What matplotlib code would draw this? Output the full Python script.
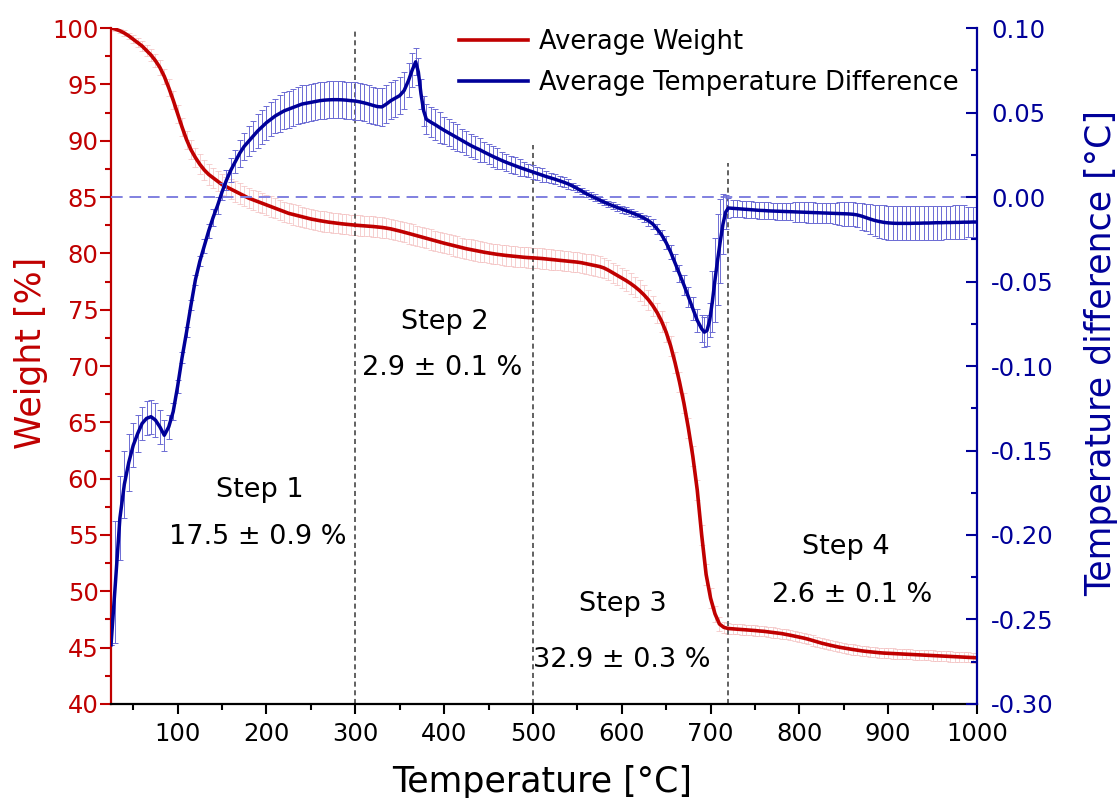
import matplotlib
matplotlib.use('Agg')
import matplotlib.pyplot as plt
from matplotlib.ticker import MultipleLocator, FormatStrFormatter
from matplotlib.lines import Line2D

plt.rcParams['font.family'] = 'DejaVu Sans'
plt.rcParams['axes.unicode_minus'] = False

# ---- weight curve (left axis) ----
temp_w = [
    25, 30, 35, 40, 45, 50, 55, 60, 65, 70,
    75, 80, 85, 90, 95, 100, 105, 110, 115, 120,
    125, 130, 135, 140, 145, 150, 155, 160, 165, 170,
    175, 180, 185, 190, 195, 200, 205, 210, 215, 220,
    225, 230, 235, 240, 245, 250, 255, 260, 265, 270,
    275, 280, 285, 290, 295, 300, 305, 310, 315, 320,
    325, 330, 335, 340, 345, 350, 355, 360, 365, 370,
    375, 380, 385, 390, 395, 400, 405, 410, 415, 420,
    425, 430, 435, 440, 445, 450, 455, 460, 465, 470,
    475, 480, 485, 490, 495, 500, 505, 510, 515, 520,
    525, 530, 535, 540, 545, 550, 555, 560, 565, 570,
    575, 580, 585, 590, 595, 600, 605, 610, 615, 620,
    625, 630, 635, 640, 645, 650, 655, 660, 665, 670,
    675, 680, 685, 690, 695, 700, 705, 710, 715, 720,
    725, 730, 735, 740, 745, 750, 755, 760, 765, 770,
    775, 780, 785, 790, 795, 800, 805, 810, 815, 820,
    825, 830, 835, 840, 845, 850, 855, 860, 865, 870,
    875, 880, 885, 890, 895, 900, 905, 910, 915, 920,
    925, 930, 935, 940, 945, 950, 955, 960, 965, 970,
    975, 980, 985, 990, 995, 1000]
weight = [
    100.0, 99.9, 99.75, 99.55, 99.3, 99.0, 98.7, 98.4, 98.0, 97.6,
    97.1, 96.5, 95.7, 94.7, 93.6, 92.4, 91.2, 90.1, 89.2, 88.5,
    87.9, 87.4, 87.0, 86.7, 86.4, 86.1, 85.9, 85.7, 85.5, 85.3,
    85.1, 84.9, 84.75, 84.6, 84.45, 84.3, 84.15, 84.0, 83.85, 83.7,
    83.55, 83.45, 83.35, 83.25, 83.15, 83.05, 82.97, 82.9, 82.83, 82.77,
    82.72, 82.67, 82.62, 82.58, 82.54, 82.5, 82.47, 82.44, 82.41, 82.38,
    82.34, 82.3, 82.24, 82.17, 82.08, 81.98, 81.88, 81.77, 81.66, 81.55,
    81.44, 81.33, 81.22, 81.11, 81.0, 80.9, 80.8, 80.7, 80.6, 80.5,
    80.41, 80.33, 80.25, 80.17, 80.1, 80.03, 79.97, 79.91, 79.86, 79.81,
    79.77, 79.73, 79.69, 79.65, 79.62, 79.6, 79.57, 79.54, 79.5, 79.46,
    79.42, 79.38, 79.34, 79.3, 79.26, 79.22, 79.16, 79.08, 79.0, 78.92,
    78.83, 78.7, 78.5, 78.27, 78.05, 77.82, 77.58, 77.32, 77.03, 76.7,
    76.32, 75.88, 75.35, 74.72, 73.95, 73.0, 71.8, 70.3, 68.6, 66.7,
    64.5, 62.0, 59.0, 55.0, 51.5, 49.4, 48.0, 47.1, 46.8, 46.7,
    46.67, 46.64, 46.61, 46.58, 46.55, 46.52, 46.48, 46.45, 46.4, 46.35,
    46.3, 46.25, 46.18, 46.1, 46.02, 45.95, 45.85, 45.75, 45.63, 45.5,
    45.4, 45.3, 45.21, 45.12, 45.04, 44.97, 44.9, 44.84, 44.78, 44.72,
    44.67, 44.63, 44.59, 44.55, 44.52, 44.5, 44.48, 44.46, 44.44, 44.42,
    44.4, 44.38, 44.36, 44.34, 44.32, 44.3, 44.28, 44.26, 44.24, 44.22,
    44.2, 44.18, 44.16, 44.14, 44.12, 44.1]
weight_err = ([0.05, 0.15, 0.2, 0.25, 0.3, 0.35, 0.4, 0.45, 0.5, 0.55,
               0.6, 0.65, 0.7, 0.75, 0.8, 0.8, 0.8, 0.8, 0.85, 0.85]
              + [0.9] * 116 + [0.7, 0.6, 0.5, 0.5] + [0.45] * 56)

# ---- temperature difference curve (right axis) ----
temp_d = [
    25, 30, 35, 40, 45, 50, 55, 60, 65, 70,
    75, 80, 85, 90, 95, 100, 105, 110, 115, 120,
    125, 130, 135, 140, 145, 150, 155, 160, 165, 170,
    175, 180, 185, 190, 195, 200, 205, 210, 215, 220,
    225, 230, 235, 240, 245, 250, 255, 260, 265, 270,
    275, 280, 285, 290, 295, 300, 305, 310, 315, 320,
    325, 330, 335, 340, 345, 350, 355, 360,
    364, 368, 371, 374, 377, 380,
    385, 390, 395, 400, 405, 410, 415, 420, 425, 430,
    435, 440, 445, 450, 455, 460, 465, 470, 475, 480,
    485, 490, 495, 500, 505, 510, 515, 520, 525, 530,
    535, 540, 545, 550, 555, 560, 565, 570, 575, 580,
    585, 590, 595, 600, 605, 610, 615, 620, 625, 630,
    635, 640, 645, 650, 655, 660, 665, 670, 675, 680,
    685, 690, 693, 696, 699, 702, 705, 708, 711, 714, 717, 720,
    725, 730, 735, 740, 745, 750, 755, 760, 765, 770,
    775, 780, 785, 790, 795, 800, 805, 810, 815, 820,
    825, 830, 835, 840, 845, 850, 855, 860, 865, 870,
    875, 880, 885, 890, 895, 900, 905, 910, 915, 920,
    925, 930, 935, 940, 945, 950, 955, 960, 965, 970,
    975, 980, 985, 990, 995, 1000]
dtemp = [
    -0.265, -0.228, -0.190, -0.170, -0.157, -0.147, -0.140, -0.134, -0.131, -0.130,
    -0.132, -0.136, -0.141, -0.136, -0.127, -0.112, -0.095, -0.080, -0.064, -0.049,
    -0.038, -0.029, -0.020, -0.012, -0.005, 0.003, 0.010, 0.016, 0.021, 0.026,
    0.030, 0.033, 0.036, 0.039, 0.0415, 0.044, 0.046, 0.048, 0.0495, 0.051,
    0.052, 0.053, 0.054, 0.055, 0.0555, 0.056, 0.0565, 0.057, 0.0573, 0.0575,
    0.0576, 0.0576, 0.0575, 0.0573, 0.057, 0.0568, 0.0563, 0.0557, 0.055, 0.0542,
    0.0535, 0.0533, 0.055, 0.057, 0.0585, 0.060, 0.063, 0.069,
    0.075, 0.080, 0.074, 0.061, 0.051, 0.046,
    0.0443, 0.0428, 0.0411, 0.0395, 0.038, 0.0365, 0.035, 0.0335, 0.032, 0.0305,
    0.0292, 0.028, 0.0266, 0.0253, 0.024, 0.0228, 0.0216, 0.0205, 0.0195, 0.0185,
    0.0175, 0.0166, 0.0157, 0.0148, 0.0139, 0.013, 0.0121, 0.0113, 0.0105, 0.0096,
    0.0087, 0.0077, 0.0064, 0.005, 0.0035, 0.002, 0.0007, -0.0005, -0.0018, -0.003,
    -0.0041, -0.0052, -0.0062, -0.0072, -0.0081, -0.0091, -0.0101, -0.0112, -0.0125, -0.014,
    -0.016, -0.019, -0.0225, -0.027, -0.0325, -0.039, -0.0455, -0.052, -0.059, -0.066,
    -0.073, -0.078, -0.080, -0.079, -0.073, -0.062, -0.049, -0.037, -0.026, -0.016, -0.009, -0.0065,
    -0.0067, -0.0069, -0.0071, -0.0073, -0.0075, -0.0077, -0.0079, -0.008, -0.0082, -0.0083,
    -0.0084, -0.0085, -0.0086, -0.0087, -0.0088, -0.0089, -0.009, -0.0091, -0.0092, -0.0093,
    -0.0094, -0.0095, -0.0096, -0.0097, -0.0098, -0.0099, -0.010, -0.0102, -0.0106, -0.0113,
    -0.0122, -0.0131, -0.0139, -0.0145, -0.015, -0.0153, -0.0155, -0.0156, -0.0156, -0.0156,
    -0.0156, -0.0155, -0.0155, -0.0154, -0.0154, -0.0153, -0.0152, -0.0152, -0.0151, -0.0151,
    -0.015, -0.015, -0.0149, -0.0149, -0.0148, -0.0148]
dtemp_err = [
    0.0, 0.036, 0.025, 0.020, 0.017, 0.013, 0.011, 0.010, 0.010, 0.010,
    0.010, 0.010, 0.009, 0.007, 0.005, 0.004, 0.003, 0.003, 0.003, 0.003,
    0.003, 0.004, 0.004, 0.005, 0.005, 0.005, 0.006, 0.007, 0.007, 0.008,
    0.008, 0.009, 0.009, 0.010, 0.010, 0.010, 0.010, 0.010, 0.011, 0.011,
    0.011, 0.011, 0.011, 0.011, 0.011, 0.011, 0.011, 0.011, 0.011, 0.011,
    0.011, 0.011, 0.011, 0.011, 0.011, 0.011, 0.011, 0.011, 0.011, 0.011,
    0.011, 0.011, 0.011, 0.011, 0.011, 0.011, 0.011, 0.010,
    0.010, 0.008, 0.008, 0.009, 0.009, 0.009,
    0.009, 0.009, 0.009, 0.008, 0.008, 0.008, 0.008, 0.007, 0.007, 0.007,
    0.007, 0.007, 0.006, 0.006, 0.006, 0.006, 0.005, 0.005, 0.005, 0.005,
    0.005, 0.004, 0.004, 0.004, 0.004, 0.004, 0.003, 0.003, 0.003, 0.003,
    0.003, 0.003, 0.002, 0.002, 0.002, 0.002, 0.002, 0.002, 0.002, 0.002,
    0.002, 0.002, 0.002, 0.002, 0.002, 0.002, 0.002, 0.002, 0.002, 0.003,
    0.003, 0.003, 0.003, 0.004, 0.004, 0.005, 0.005, 0.006, 0.006, 0.007,
    0.007, 0.008, 0.009, 0.009, 0.010, 0.018, 0.025, 0.027, 0.025, 0.018, 0.010, 0.006,
    0.005, 0.005, 0.005, 0.005, 0.005, 0.005, 0.005, 0.005, 0.005, 0.005,
    0.005, 0.005, 0.005, 0.005, 0.006, 0.006, 0.006, 0.006, 0.006, 0.006,
    0.006, 0.006, 0.006, 0.006, 0.007, 0.007, 0.007, 0.007, 0.007, 0.008,
    0.008, 0.009, 0.009, 0.010, 0.010, 0.010, 0.010, 0.010, 0.010, 0.010,
    0.010, 0.010, 0.010, 0.010, 0.010, 0.010, 0.010, 0.010, 0.010, 0.010,
    0.010, 0.010, 0.010, 0.009, 0.009, 0.009]

step_names = ['Step 1', 'Step 2', 'Step 3', 'Step 4']
step_losses = ['17.5 \u00b1 0.9 %', '2.9 \u00b1 0.1 %', '32.9 \u00b1 0.3 %', '2.6 \u00b1 0.1 %']
step_bounds = [300, 500, 720]

RED = '#c00000'
BLUE = '#000099'

fig = plt.figure(figsize=(11.18, 7.98), dpi=100)
ax = fig.add_axes([0.0993, 0.1178, 0.7746, 0.8471])
ax2 = ax.twinx()

# weight
ax.errorbar(temp_w, weight, yerr=weight_err, fmt='none', ecolor='#f3bcbc',
            elinewidth=0.7, capsize=2, capthick=0.7, alpha=0.7, zorder=1)
ax.plot(temp_w, weight, color=RED, lw=2.6, zorder=3)

# step boundaries
ax.vlines(step_bounds, 40, [100, 89.6, 88.0], colors='#555555',
          linestyles=(0, (2.8, 2.0)), lw=1.3, zorder=2)

# temperature difference
ax2.axhline(0, color='#8080e0', lw=1.4, ls=(0, (6, 3.5)), zorder=1)
ax2.errorbar(temp_d, dtemp, yerr=dtemp_err, fmt='none', ecolor='#6c6cd4',
             elinewidth=0.7, capsize=2.2, capthick=0.7, zorder=2)
ax2.plot(temp_d, dtemp, color=BLUE, lw=2.5, zorder=3)

# step annotations
name_pos = [(193, 59.0), (401, 73.9), (601, 48.9), (852, 53.9)]
loss_pos = [(190, 54.8), (398, 69.8), (600, 43.9), (859, 49.7)]
for name, loss, (xn, yn), (xl, yl) in zip(step_names, step_losses, name_pos, loss_pos):
    ax.text(xn, yn, name, ha='center', va='center', fontsize=19.5, zorder=5)
    ax.text(xl, yl, loss, ha='center', va='center', fontsize=19.5, zorder=5)

# axes
ax.set_xlim(25, 1000)
ax.set_ylim(40, 100)
ax2.set_ylim(-0.30, 0.10)
ax.set_xticks(range(100, 1001, 100))
ax.xaxis.set_minor_locator(MultipleLocator(50))
ax.set_yticks(range(40, 101, 5))
ax.yaxis.set_minor_locator(MultipleLocator(2.5))
ax2.set_yticks([-0.30, -0.25, -0.20, -0.15, -0.10, -0.05, 0.0, 0.05, 0.10])
ax2.yaxis.set_minor_locator(MultipleLocator(0.025))
ax2.yaxis.set_major_formatter(FormatStrFormatter('%.2f'))

for a in (ax, ax2):
    a.spines['top'].set_visible(False)
ax.spines['right'].set_visible(False)
ax2.spines['left'].set_visible(False)
ax2.spines['bottom'].set_visible(False)
ax.spines['left'].set_color(RED)
ax.spines['left'].set_linewidth(1.6)
ax.spines['bottom'].set_linewidth(1.6)
ax2.spines['right'].set_color(BLUE)
ax2.spines['right'].set_linewidth(1.6)

ax.tick_params(axis='x', which='both', direction='out', colors='black',
               labelsize=17.5, width=1.5, pad=6)
ax.tick_params(axis='x', which='major', length=7)
ax.tick_params(axis='x', which='minor', length=4.5)
ax.tick_params(axis='y', which='both', direction='out', colors=RED,
               labelsize=17.5, width=1.5, pad=1)
ax.tick_params(axis='y', which='major', length=8)
ax.tick_params(axis='y', which='minor', length=4.5)
ax2.tick_params(axis='y', which='both', direction='in', colors=BLUE,
                labelsize=17.5, width=1.5, pad=10)
ax2.tick_params(axis='y', which='major', length=8)
ax2.tick_params(axis='y', which='minor', length=4)

fig.text(542 / 1118, 1 - 782 / 798, 'Temperature [\u00b0C]', ha='center', va='center',
         fontsize=25)
fig.text(31 / 1118, 1 - 353 / 798, 'Weight [%]', ha='center', va='center',
         rotation=90, color=RED, fontsize=25)
fig.text(1101 / 1118, 1 - 353 / 798, 'Temperature difference [\u00b0C]', ha='center',
         va='center', rotation=90, color=BLUE, fontsize=25)

handles = [Line2D([], [], color=RED, lw=2.6), Line2D([], [], color=BLUE, lw=2.6)]
ax2.legend(handles, ['Average Weight', 'Average Temperature Difference'],
           loc='upper left', bbox_to_anchor=(459 / 1118, 1 - 29 / 798),
           bbox_transform=fig.transFigure, frameon=False, fontsize=18.5,
           handlelength=2.7, handletextpad=0.4, labelspacing=0.6,
           borderpad=0, borderaxespad=0)

fig.savefig('out.png', dpi=100)
